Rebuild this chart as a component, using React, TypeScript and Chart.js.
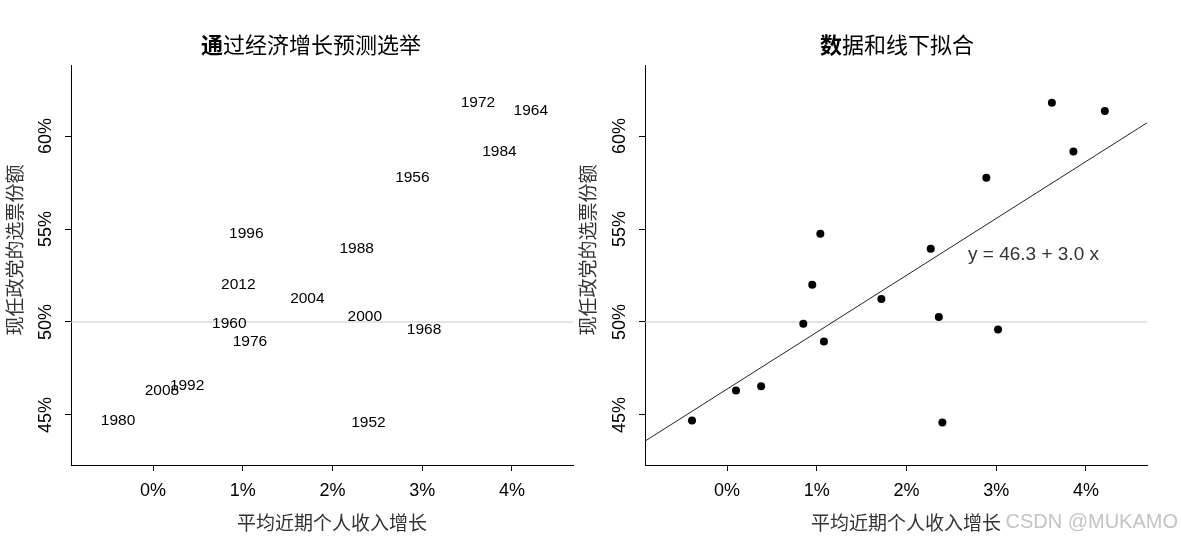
import React, { useEffect, useRef } from 'react';
import { Chart, registerables } from 'chart.js';

Chart.register(...registerables);

// ---- data ----
const years = ['1952', '1956', '1960', '1964', '1968', '1972', '1976', '1980', '1984', '1988', '1992', '1996', '2000', '2004', '2008', '2012'];
const growth = [2.40, 2.89, 0.85, 4.21, 3.02, 3.62, 1.08, -0.39, 3.86, 2.27, 0.38, 1.04, 2.36, 1.72, 0.10, 0.95];
const vote = [44.60, 57.76, 49.91, 61.34, 49.60, 61.79, 48.95, 44.70, 59.17, 53.94, 46.55, 54.74, 50.27, 51.24, 46.32, 52.00];
const xTicks = [0, 1, 2, 3, 4];
const yTicks = [45, 50, 55, 60];
const xRange = [-0.914, 4.68];
const yRange = [42.31, 63.82];
const refLevel = 50;
const fitCoef = [46.39, 3.06];
const fitLabel = 'y = 46.3 + 3.0 x';
const leftTitle = '通过经济增长预测选举';
const rightTitle = '数据和线下拟合';
const xTitle = '平均近期个人收入增长';
const yTitle = '现任政党的选票份额';
const watermark = 'CSDN @MUKAMO';

const NUM = '"Liberation Sans", Arial, sans-serif';
const CJK = '"Noto Sans CJK SC", sans-serif';

type Layout = {
  width: number;
  yAxisWidth: number;
  padRight: number;
  titleX: number;
  yTickX: number;
  yTitleX: number;
  xTitleX: number;
};

function drawTitle(ctx: CanvasRenderingContext2D, text: string, cx: number, cy: number) {
  const first = text.slice(0, 1);
  const rest = text.slice(1);
  ctx.font = `bold 22px ${CJK}`;
  const w1 = ctx.measureText(first).width;
  ctx.font = `22px ${CJK}`;
  const w2 = ctx.measureText(rest).width;
  const start = cx - (w1 + w2) / 2;
  ctx.textAlign = 'left';
  ctx.textBaseline = 'middle';
  ctx.fillStyle = '#000';
  ctx.font = `bold 22px ${CJK}`;
  ctx.fillText(first, start, cy);
  ctx.font = `22px ${CJK}`;
  ctx.fillText(rest, start + w1, cy);
}

function overlay(layout: Layout, title: string, extra?: (chart: any, ctx: CanvasRenderingContext2D) => void) {
  return {
    id: 'overlay',
    afterDraw(chart: any) {
      const ctx: CanvasRenderingContext2D = chart.ctx;
      const xs = chart.scales.x;
      const ys = chart.scales.y;
      ctx.save();
      drawTitle(ctx, title, layout.titleX, 45);

      ctx.fillStyle = '#000';
      ctx.font = `18px ${NUM}`;
      ctx.textAlign = 'center';
      ctx.textBaseline = 'middle';
      xTicks.forEach((v) => ctx.fillText(`${v}%`, xs.getPixelForValue(v), 491));
      yTicks.forEach((v) => {
        ctx.save();
        ctx.translate(layout.yTickX, ys.getPixelForValue(v));
        ctx.rotate(-Math.PI / 2);
        ctx.fillText(`${v}%`, 0, 0);
        ctx.restore();
      });

      ctx.fillStyle = '#333';
      ctx.font = `19px ${CJK}`;
      ctx.fillText(xTitle, layout.xTitleX, 523);
      ctx.save();
      ctx.translate(layout.yTitleX, 250);
      ctx.rotate(-Math.PI / 2);
      ctx.fillText(yTitle, 0, 0);
      ctx.restore();

      if (extra) extra(chart, ctx);
      ctx.restore();
    },
  };
}

function scales(layout: Layout) {
  return {
    x: {
      type: 'linear',
      min: xRange[0],
      max: xRange[1],
      afterBuildTicks: (s: any) => {
        s.ticks = xTicks.map((v) => ({ value: v }));
      },
      afterFit: (s: any) => {
        s.height = 76;
      },
      ticks: { display: false },
      grid: { drawOnChartArea: false, drawTicks: true, tickLength: 6, color: '#000', lineWidth: 1 },
      border: { display: true, color: '#000', width: 1 },
    },
    y: {
      type: 'linear',
      min: yRange[0],
      max: yRange[1],
      afterBuildTicks: (s: any) => {
        s.ticks = yTicks.map((v) => ({ value: v }));
      },
      afterFit: (s: any) => {
        s.width = layout.yAxisWidth;
      },
      ticks: { display: false },
      grid: { drawOnChartArea: false, drawTicks: true, tickLength: 6, color: '#000', lineWidth: 1 },
      border: { display: true, color: '#000', width: 1 },
    },
  };
}

function refLine() {
  return {
    data: [
      { x: xRange[0], y: refLevel },
      { x: xRange[1], y: refLevel },
    ],
    showLine: true,
    borderColor: '#c8c8c8',
    borderWidth: 1,
    pointRadius: 0,
    order: 3,
  };
}

const leftLayout: Layout = { width: 575, yAxisWidth: 71, padRight: 2, titleX: 311, yTickX: 46, yTitleX: 15, xTitleX: 332 };
const rightLayout: Layout = { width: 606, yAxisWidth: 70, padRight: 34, titleX: 322, yTickX: 45, yTitleX: 13, xTitleX: 331 };

function leftConfig(): any {
  return {
    type: 'scatter',
    data: {
      datasets: [
        refLine(),
        {
          data: growth.map((g, i) => ({ x: g, y: vote[i] })),
          pointRadius: 0,
          showLine: false,
          order: 1,
        },
      ],
    },
    options: {
      animation: false,
      responsive: false,
      events: [],
      layout: { padding: { left: 0, top: 65, right: leftLayout.padRight, bottom: 0 } },
      plugins: { legend: { display: false }, tooltip: { enabled: false }, title: { display: false } },
      scales: scales(leftLayout),
    },
    plugins: [
      overlay(leftLayout, leftTitle, (chart, ctx) => {
        const meta = chart.getDatasetMeta(1);
        ctx.fillStyle = '#000';
        ctx.font = `15.5px ${NUM}`;
        ctx.textAlign = 'center';
        ctx.textBaseline = 'middle';
        meta.data.forEach((el: any, i: number) => ctx.fillText(years[i], el.x, el.y));
      }),
    ],
  };
}

function rightConfig(): any {
  return {
    type: 'scatter',
    data: {
      datasets: [
        refLine(),
        {
          data: xRange.map((x) => ({ x, y: fitCoef[0] + fitCoef[1] * x })),
          showLine: true,
          borderColor: '#222',
          borderWidth: 1,
          pointRadius: 0,
          order: 2,
        },
        {
          data: growth.map((g, i) => ({ x: g, y: vote[i] })),
          pointRadius: 4,
          pointBorderWidth: 0,
          backgroundColor: '#000',
          borderColor: '#000',
          showLine: false,
          order: 1,
        },
      ],
    },
    options: {
      animation: false,
      responsive: false,
      events: [],
      layout: { padding: { left: 0, top: 65, right: rightLayout.padRight, bottom: 0 } },
      plugins: { legend: { display: false }, tooltip: { enabled: false }, title: { display: false } },
      scales: scales(rightLayout),
    },
    plugins: [
      overlay(rightLayout, rightTitle, (chart, ctx) => {
        ctx.fillStyle = '#333';
        ctx.font = `19px ${NUM}`;
        ctx.textAlign = 'left';
        ctx.textBaseline = 'middle';
        ctx.fillText(fitLabel, 393, 255);
        ctx.fillStyle = '#c4c4c4';
        ctx.font = `20px ${NUM}`;
        ctx.textAlign = 'right';
        ctx.fillText(watermark, 603, 522);
      }),
    ],
  };
}

function Plot({ left, width, config }: { left: number; width: number; config: () => any }) {
  const ref = useRef<HTMLCanvasElement | null>(null);
  useEffect(() => {
    if (!ref.current) return;
    const chart = new Chart(ref.current, config());
    return () => chart.destroy();
  }, []);
  return (
    <canvas
      ref={ref}
      width={width}
      height={541}
      style={{ position: 'absolute', left, top: 0, width, height: 541, display: 'block' }}
    />
  );
}

export default function App() {
  return (
    <div style={{ position: 'absolute', left: 0, top: 0, width: 1181, height: 541, background: '#fff', overflow: 'hidden' }}>
      <Plot left={0} width={leftLayout.width} config={leftConfig} />
      <Plot left={575} width={rightLayout.width} config={rightConfig} />
    </div>
  );
}
